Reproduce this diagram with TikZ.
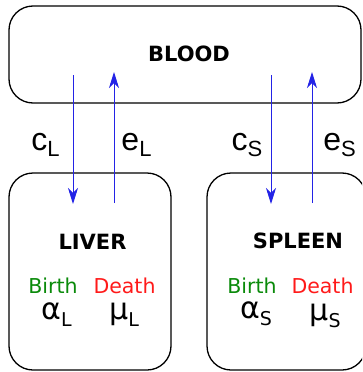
\documentclass[tikz,border=0pt]{standalone}
\usepackage{fontspec}
\setmainfont{DejaVu Sans}
\newfontfamily\ratefont{Liberation Sans}
\usetikzlibrary{arrows.meta}

\definecolor{flowblue}{HTML}{2323E6}
\definecolor{birthgreen}{HTML}{0A8A0A}
\definecolor{deathred}{HTML}{FF1A1A}

\newcommand{\fsz}[1]{\fontsize{#1}{#1}\selectfont}
% big letter with lowered subscript
\newcommand{\ratelbl}[2]{{\ratefont\fsz{32}#1\raisebox{-6pt}{\fsz{22}#2}}}
\newcommand{\parlbl}[2]{{\fsz{30}#1\raisebox{-7pt}{\fsz{19}#2}}}

\tikzset{
  compartment/.style={draw=black, line width=1.3pt, rounded corners=24pt},
  flow/.style={draw=flowblue, line width=0.9pt, -{Stealth[length=16pt,width=10pt,inset=5pt]}},
  organ/.style={anchor=base, font=\bfseries\fsz{21}},
  rate/.style={anchor=base, inner sep=0pt},
}

\begin{document}
\begin{tikzpicture}[x=1pt,y=-1pt]
  \useasboundingbox (0,0) rectangle (362,372);
  \clip (0,0) rectangle (362,372);

  \draw[compartment] (9,6) rectangle (361,103);
  \draw[compartment] (9,173) rectangle (171,370);
  \draw[compartment] (207,173) rectangle (366,370);

  \node[organ] (blood) at (189,61) {BLOOD};
  \node[organ] (liver) at (92.5,249) {LIVER};
  \node[organ] (spleen) at (298,248) {SPLEEN};

  \coordinate (cLtop) at (73,75);
  \coordinate (cLbot) at (73,204);
  \coordinate (eLbot) at (114,203);
  \coordinate (eLtop) at (114,72);
  \coordinate (cStop) at (271,75);
  \coordinate (cSbot) at (271,204);
  \coordinate (eSbot) at (312,203);
  \coordinate (eStop) at (312,72);

  \draw[flow] (cLtop) -- (cLbot);
  \draw[flow] (eLbot) -- (eLtop);
  \draw[flow] (cStop) -- (cSbot);
  \draw[flow] (eSbot) -- (eStop);

  \node[rate] (cL) at (45.5,150) {\ratelbl{c}{L}};
  \node[rate] (eL) at (136.5,150) {\ratelbl{e}{L}};
  \node[rate] (cS) at (247,150) {\ratelbl{c}{S}};
  \node[rate] (eS) at (339.5,150) {\ratelbl{e}{S}};

  \node[rate, text=birthgreen, font=\fsz{20.5}] (birthL) at (53,293) {Birth};
  \node[rate, text=deathred, font=\fsz{20.5}] (deathL) at (124.5,293) {Death};
  \node[rate, text=birthgreen, font=\fsz{20.5}] (birthS) at (252,293) {Birth};
  \node[rate, text=deathred, font=\fsz{20.5}] (deathS) at (322.5,293) {Death};

  \node[rate] (alphaL) at (56.5,319) {\parlbl{α}{L}};
  \node[rate] (muL) at (124,319) {\parlbl{μ}{L}};
  \node[rate] (alphaS) at (256,318) {\parlbl{α}{S}};
  \node[rate] (muS) at (325,320) {\parlbl{μ}{S}};
\end{tikzpicture}
\end{document}
